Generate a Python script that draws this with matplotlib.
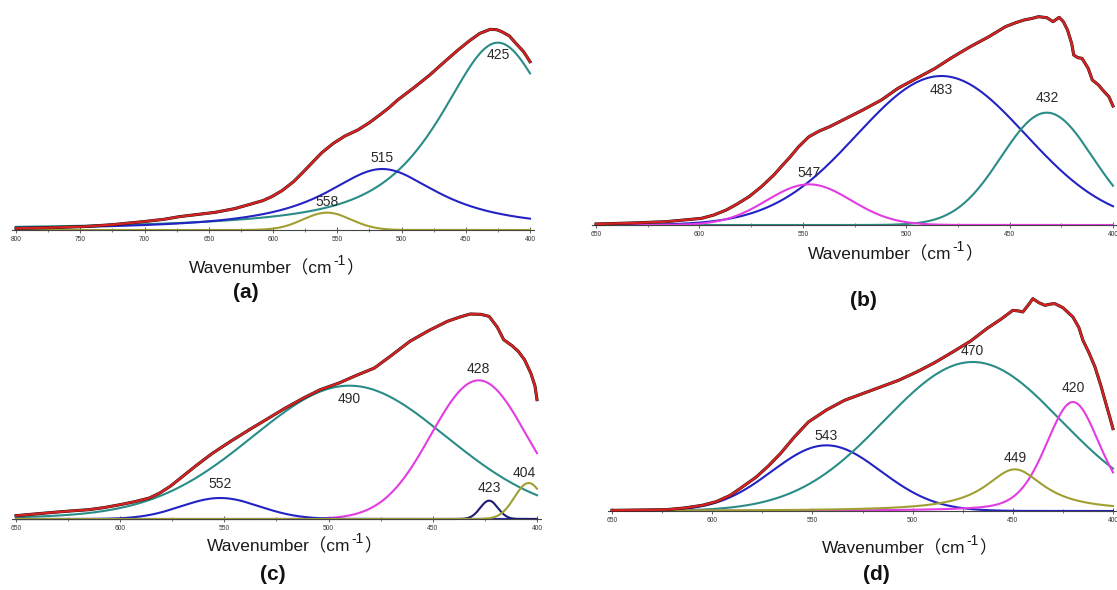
import numpy as np
import matplotlib.pyplot as plt

plt.rcParams['font.family'] = ['Liberation Sans', 'Noto Sans CJK SC']

# measured spectra: wavenumber (cm-1) and intensity (a.u.)
a_wn = [800, 775, 748, 725, 701, 685, 673, 660, 645, 630, 617, 608, 601, 593, 584, 577, 570, 562, 553, 544,
        534, 525, 517, 510, 503, 490, 478, 467, 456, 447, 439, 431, 426, 422, 416, 411, 405, 400]
a_int = [5, 7, 10, 16, 25, 32, 40, 46, 53, 64, 78, 88, 100, 118, 145, 172, 200, 232, 260, 282,
         300, 322, 345, 366, 390, 428, 465, 503, 540, 568, 590, 602, 601, 595, 582, 560, 535, 505]

b_wn = [650, 633, 616, 599, 593, 587, 582, 576, 570, 564, 560, 556, 552, 547, 542, 537, 529, 521, 512, 504,
        495, 486, 478, 469, 460, 452, 447, 443, 439, 436, 432, 429, 426, 424, 422, 420, 419, 417, 415, 412,
        410, 407, 405, 402, 400]
b_int = [3, 6, 10, 20, 30, 45, 62, 85, 115, 150, 178, 205, 235, 265, 282, 295, 320, 345, 375, 410,
         440, 470, 502, 535, 565, 595, 607, 615, 620, 625, 622, 610, 623, 610, 585, 545, 510, 502, 500, 470,
         435, 420, 405, 385, 357]

c_wn = [650, 641, 632, 624, 615, 608, 600, 593, 586, 581, 576, 570, 564, 556, 547, 538, 530, 521, 512, 504,
        495, 487, 478, 470, 461, 452, 443, 437, 432, 427, 423, 419, 416, 412, 409, 406, 403, 401, 400]
c_int = [10, 15, 20, 24, 28, 34, 43, 52, 63, 78, 98, 128, 158, 196, 233, 268, 298, 332, 363, 388,
         408, 430, 453, 490, 533, 565, 593, 606, 615, 614, 608, 575, 538, 520, 503, 478, 438, 400, 358]

d_wn = [650, 636, 623, 614, 605, 598, 591, 585, 578, 572, 566, 559, 552, 543, 534, 525, 516, 507, 498, 489,
        480, 471, 463, 456, 450, 447, 445, 442, 440, 437, 434, 431, 429, 425, 420, 417, 415, 412, 409, 406,
        404, 402, 400]
d_int = [2, 3, 4, 9, 17, 28, 47, 72, 102, 135, 172, 222, 267, 303, 332, 352, 372, 392, 417, 445,
         477, 510, 547, 575, 602, 600, 597, 620, 637, 625, 617, 621, 622, 610, 582, 550, 512, 475, 432, 375,
         332, 290, 247]

# fitted bands: centre, height, half width, lorentzian fraction
a_centers = [425, 515, 558]
a_heights = [562, 183, 52]
a_hwhm = [55, 55, 22]
a_lor = [0.8, 1.0, 0.0]

b_centers = [483, 432, 547]
b_heights = [447, 337, 122]
b_hwhm = [48, 26, 24]
b_lor = [0.0, 0.0, 0.0]

c_centers = [490, 428, 552, 423, 404]
c_heights = [400, 416, 63, 55, 108]
c_hwhm = [56, 27, 22, 5, 8]
c_lor = [0.1, 0.0, 0.0, 0.0, 0.0]

d_centers = [543, 470, 420, 449]
d_heights = [197, 447, 327, 125]
d_hwhm = [32, 52, 16, 18]
d_lor = [0.0, 0.0, 0.3, 1.0]

TEAL = '#2a8c86'
BLUE = '#2323c4'
OLIVE = '#a0a032'
MAGENTA = '#e23ce2'
NAVY = '#1c1c70'
RED = '#d42222'

W, H = 1117, 590
fig = plt.figure(figsize=(W / 100, H / 100), dpi=100)


def band(x, c, h, w, eta):
    u = (x - c) / w
    return h * ((1 - eta) * np.exp(-np.log(2) * u ** 2) + eta / (1 + u ** 2))


def panel(x_first, x_last, wn_first, wn_last, base):
    pxu = (x_last - x_first) / (wn_first - wn_last)
    pad = 4
    left, right = x_first - pad, x_last + pad
    ax = fig.add_axes([left / W, (H - base) / H, (right - left) / W, 210 / H])
    ax.set_xlim(wn_first + pad / pxu, wn_last - pad / pxu)
    ax.set_ylim(0, 630)
    ax.patch.set_visible(False)
    for s in ['top', 'left', 'right']:
        ax.spines[s].set_visible(False)
    ax.spines['bottom'].set_color('#444444')
    ax.spines['bottom'].set_linewidth(0.8)
    ax.set_yticks([])
    ax.set_xticks(np.arange(wn_last, wn_first + 1, 50))
    ax.set_xticks(np.arange(wn_last, wn_first + 1, 25), minor=True)
    ax.tick_params(axis='x', which='major', direction='inout', length=4, width=0.6,
                   labelsize=4.8, pad=2.5, color='#444444', labelcolor='#333333')
    ax.tick_params(axis='x', which='minor', direction='inout', length=3, width=0.5, color='#444444')
    return ax


def draw(ax, wn, inten, centers, heights, hwhm, lor, colors, offsets, dxs):
    x = np.linspace(min(wn), max(wn), 800)
    for c, h, w, e, col, dy, dx in zip(centers, heights, hwhm, lor, colors, offsets, dxs):
        ax.plot(x, band(x, c, h, w, e), color=col, lw=1.5, clip_on=False, zorder=2)
        ax.annotate(str(c), xy=(c, h), xytext=(dx, dy), textcoords='offset pixels',
                    ha='center', va='center', fontsize=10, color='#2a2a2a')
    ax.plot(wn, inten, color='#111111', lw=2.2, clip_on=False, zorder=3)
    ax.plot(wn, inten, color=RED, lw=1.7, clip_on=False, zorder=4)


def xlabel(ax, x0, base, tag, tag_x, tag_y):
    t1 = ax.annotate('Wavenumber（cm', xy=(x0, H - base), xycoords='figure pixels',
                     ha='left', va='baseline', fontsize=12.5, color='#1a1a1a', annotation_clip=False)
    t2 = ax.annotate('-1', xy=(1, H - base + 8), xycoords=(t1, 'figure pixels'),
                     xytext=(1, 0), textcoords='offset pixels',
                     ha='left', va='baseline', fontsize=10, color='#1a1a1a', annotation_clip=False)
    ax.annotate('）', xy=(1, H - base), xycoords=(t2, 'figure pixels'),
                ha='left', va='baseline', fontsize=12.5, color='#1a1a1a', annotation_clip=False)
    ax.annotate(tag, xy=(tag_x, H - tag_y), xycoords='figure pixels', ha='center', va='center',
                fontsize=15, fontweight='bold', color='#111111', annotation_clip=False)


ax_a = panel(16, 530, 800, 400, 230)
draw(ax_a, a_wn, a_int, a_centers, a_heights, a_hwhm, a_lor, [TEAL, BLUE, OLIVE],
     [-12, 11, 11], [0, 0, 0])
xlabel(ax_a, 189, 273, '(a)', 246, 292)

ax_b = panel(596, 1113, 650, 400, 225)
draw(ax_b, b_wn, b_int, b_centers, b_heights, b_hwhm, b_lor, [BLUE, TEAL, MAGENTA],
     [-14, 15, 11], [0, 0, 0])
xlabel(ax_b, 808, 259, '(b)', 863, 300)

ax_c = panel(16, 537, 650, 400, 519)
draw(ax_c, c_wn, c_int, c_centers, c_heights, c_hwhm, c_lor, [TEAL, MAGENTA, BLUE, NAVY, OLIVE],
     [-13, 11, 14, 13, 10], [0, 0, 0, 0, -4])
xlabel(ax_c, 207, 551, '(c)', 273, 575)

ax_d = panel(612, 1113, 650, 400, 511)
draw(ax_d, d_wn, d_int, d_centers, d_heights, d_hwhm, d_lor, [BLUE, TEAL, MAGENTA, OLIVE],
     [9, 11, 14, 11], [0, 0, 0, 0])
xlabel(ax_d, 822, 553, '(d)', 876, 575)

fig.savefig('out.png', dpi=100)
